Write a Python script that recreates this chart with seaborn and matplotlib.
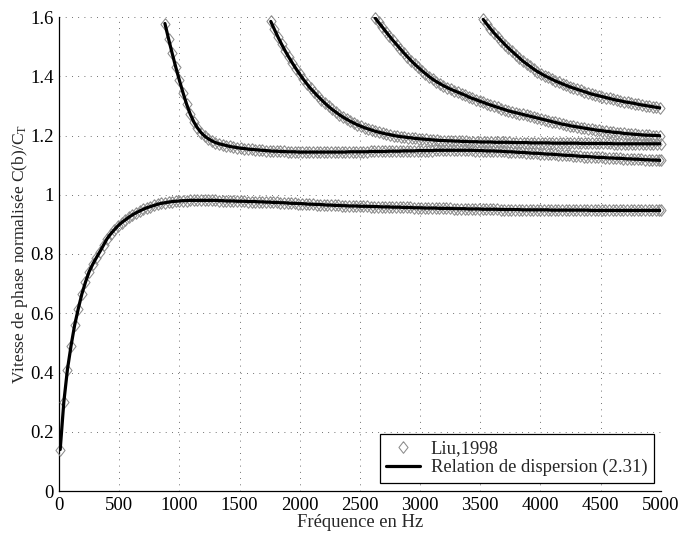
import numpy as np
import pandas as pd
import matplotlib
matplotlib.use("Agg")
import matplotlib.pyplot as plt
import seaborn as sns
from matplotlib.ticker import MultipleLocator, FuncFormatter

# ---------------- data (~30 Hz sampling) ----------------
f_mode0 = np.append(np.arange(10, 5000, 30), 5000)
v_mode0 = [0.140, 0.300, 0.410, 0.490, 0.560, 0.615, 0.665, 0.705, 0.740, 0.765,
           0.787, 0.808, 0.830, 0.852, 0.868, 0.882, 0.895, 0.906, 0.915, 0.924,
           0.932, 0.939, 0.945, 0.951, 0.956, 0.960, 0.964, 0.968, 0.971, 0.973,
           0.975, 0.977, 0.978, 0.979, 0.980, 0.980,
           0.981, 0.981, 0.981, 0.981, 0.981, 0.981, 0.981, 0.981,
           0.980, 0.980, 0.979, 0.979, 0.979, 0.978, 0.978, 0.978, 0.977, 0.977,
           0.977, 0.976, 0.976, 0.975, 0.975, 0.974, 0.974, 0.973, 0.973, 0.972,
           0.971, 0.971, 0.970, 0.970, 0.969, 0.968, 0.968, 0.967, 0.967, 0.966,
           0.965, 0.965, 0.964, 0.964, 0.963, 0.963, 0.962, 0.962, 0.962, 0.961,
           0.961, 0.961, 0.960, 0.960, 0.960, 0.959,
           0.959, 0.959, 0.958, 0.958, 0.958, 0.957,
           0.957, 0.957, 0.956, 0.956, 0.956, 0.955,
           0.955, 0.955, 0.955, 0.954, 0.954, 0.954,
           0.954, 0.953, 0.953, 0.953, 0.953, 0.952,
           0.952, 0.952, 0.952, 0.951, 0.951, 0.951,
           0.951, 0.951, 0.950, 0.950, 0.950, 0.950,
           0.950, 0.950, 0.949, 0.949, 0.949, 0.949,
           0.949, 0.949, 0.949, 0.949, 0.948, 0.948,
           0.948, 0.948, 0.948, 0.948, 0.948, 0.948,
           0.948, 0.948, 0.948, 0.947, 0.947, 0.947,
           0.947, 0.947, 0.947, 0.947, 0.947, 0.947,
           0.947, 0.947, 0.947, 0.947, 0.947, 0.947,
           0.947, 0.947, 0.947, 0.947, 0.947,
           0.947]

f_mode1 = np.append(np.arange(880, 5000, 30), 5000)
v_mode1 = [1.578, 1.527, 1.478, 1.431, 1.387, 1.345, 1.306, 1.273, 1.246, 1.226,
           1.210, 1.198, 1.189, 1.182, 1.176, 1.172, 1.169, 1.166, 1.163, 1.161,
           1.159, 1.157, 1.156, 1.154, 1.153, 1.152, 1.151, 1.150, 1.149, 1.148,
           1.147, 1.147, 1.146, 1.146, 1.145, 1.145, 1.145, 1.144,
           1.144, 1.144, 1.144, 1.144, 1.144, 1.144, 1.144, 1.144, 1.144, 1.144,
           1.144, 1.144, 1.144,
           1.145, 1.145, 1.145, 1.145, 1.145, 1.145, 1.146, 1.146, 1.146, 1.146,
           1.146, 1.147, 1.147, 1.147, 1.147, 1.148, 1.148, 1.148, 1.148, 1.149,
           1.149, 1.149, 1.149, 1.149, 1.150,
           1.150, 1.150, 1.150, 1.150, 1.150, 1.150, 1.150, 1.150, 1.150, 1.150,
           1.149, 1.149, 1.149, 1.148, 1.148, 1.148, 1.147, 1.147, 1.146, 1.145,
           1.145, 1.144, 1.143, 1.143, 1.142, 1.141, 1.140, 1.140, 1.139, 1.138,
           1.137, 1.137, 1.136, 1.135, 1.134, 1.133, 1.133, 1.132, 1.131, 1.130,
           1.129, 1.129, 1.128, 1.127, 1.126, 1.126, 1.125, 1.124, 1.124, 1.123,
           1.123, 1.122, 1.121, 1.121, 1.120, 1.120, 1.119, 1.118, 1.118, 1.117,
           1.117, 1.116,
           1.116]

f_mode2 = np.append(np.arange(1760, 5000, 30), 5000)
v_mode2 = [1.585, 1.558, 1.532, 1.508, 1.485, 1.464, 1.444, 1.425, 1.407, 1.390,
           1.374, 1.359, 1.346, 1.333, 1.321, 1.309, 1.298, 1.288, 1.279, 1.270,
           1.262, 1.255, 1.248, 1.242, 1.236, 1.231, 1.226, 1.222, 1.218, 1.214,
           1.211, 1.208, 1.205, 1.203, 1.200, 1.198, 1.196, 1.195, 1.193, 1.192,
           1.190, 1.189, 1.188, 1.187, 1.186, 1.185, 1.184, 1.183, 1.183, 1.182,
           1.182, 1.181, 1.181, 1.180, 1.180, 1.179, 1.179, 1.179, 1.178, 1.178,
           1.178, 1.178, 1.177, 1.177, 1.177, 1.177, 1.177, 1.176, 1.176, 1.176,
           1.176, 1.176, 1.175, 1.175, 1.175, 1.175, 1.175, 1.175, 1.174, 1.174,
           1.174, 1.174, 1.174, 1.174, 1.174, 1.174, 1.173, 1.173, 1.173, 1.173,
           1.173, 1.173, 1.173, 1.173, 1.173,
           1.172, 1.172, 1.172, 1.172, 1.172, 1.172, 1.172, 1.172, 1.172, 1.172,
           1.172, 1.172, 1.172,
           1.172]

f_mode3 = np.arange(2625, 5000, 30)
v_mode3 = [1.598, 1.582, 1.567, 1.551, 1.536, 1.521, 1.507, 1.493, 1.479, 1.466,
           1.453, 1.441, 1.430, 1.419, 1.409, 1.399, 1.390, 1.382, 1.375, 1.368,
           1.362, 1.356, 1.351, 1.346, 1.341, 1.336, 1.330, 1.325, 1.321, 1.316,
           1.312, 1.307, 1.303, 1.299, 1.295, 1.291, 1.287, 1.283, 1.280, 1.277,
           1.274, 1.271, 1.268, 1.265, 1.262, 1.259, 1.256, 1.253, 1.250, 1.247,
           1.244, 1.241, 1.238, 1.236, 1.233, 1.231, 1.229, 1.227, 1.225, 1.223,
           1.221, 1.219, 1.217, 1.216, 1.214, 1.213, 1.211, 1.210, 1.209, 1.207,
           1.206, 1.205, 1.204, 1.203, 1.202, 1.201, 1.201, 1.200, 1.200, 1.199]

f_mode4 = np.arange(3525, 5000, 30)
v_mode4 = [1.592, 1.576, 1.561, 1.546, 1.533, 1.520, 1.507, 1.495, 1.484, 1.473,
           1.462, 1.451, 1.442, 1.433, 1.424, 1.416, 1.409, 1.402, 1.396, 1.390,
           1.384, 1.379, 1.374, 1.369, 1.364, 1.360, 1.356, 1.352, 1.348, 1.344,
           1.340, 1.337, 1.334, 1.331, 1.328, 1.325, 1.322, 1.319, 1.317, 1.314,
           1.312, 1.310, 1.308, 1.305, 1.303, 1.301, 1.299, 1.297, 1.295, 1.293]

modes = [(f_mode0, v_mode0), (f_mode1, v_mode1), (f_mode2, v_mode2),
         (f_mode3, v_mode3), (f_mode4, v_mode4)]

x_ticks = list(range(0, 5001, 500))
y_ticks = [0, 0.2, 0.4, 0.6, 0.8, 1.0, 1.2, 1.4, 1.6]
label_liu = "Liu,1998"
label_rel = "Relation de dispersion (2.31)"
xlabel = "Fréquence en Hz"
ylabel = "Vitesse de phase normalisée C(b)/C$_{\\mathrm{T}}$"

# ---------------- style ----------------
sns.set_style("white")
plt.rcParams["font.family"] = ["Liberation Serif", "DejaVu Serif"]
plt.rcParams["mathtext.fontset"] = "custom"
plt.rcParams["mathtext.rm"] = "Liberation Serif"
plt.rcParams["mathtext.it"] = "Liberation Serif:italic"

fig = plt.figure(figsize=(6.8, 5.33), dpi=100)
ax = fig.add_axes([59 / 680, 42 / 533, 601.7 / 680, 474 / 533])

diamond = [(0, 1), (0.78, 0), (0, -1), (-0.78, 0), (0, 1)]

for i, (f, v) in enumerate(modes):
    assert len(f) == len(v), (i, len(f), len(v))
    df = pd.DataFrame({"f": f, "v": v})
    sns.lineplot(data=df, x="f", y="v", ax=ax, sort=False, estimator=None,
                 linestyle="none", marker=diamond, markersize=8.4,
                 markerfacecolor="none", markeredgecolor="0.55",
                 markeredgewidth=0.75, color="0.55", clip_on=False, zorder=3,
                 label=label_liu if i == 0 else None)
for i, (f, v) in enumerate(modes):
    df = pd.DataFrame({"f": f, "v": v})
    sns.lineplot(data=df, x="f", y="v", ax=ax, sort=False, estimator=None,
                 color="black", linewidth=2.3, zorder=4,
                 label=label_rel if i == 0 else None)

ax.set_xlim(0, 5000)
ax.set_ylim(0, 1.6)
ax.set_xticks(x_ticks)
ax.set_yticks(y_ticks)
ax.yaxis.set_major_formatter(FuncFormatter(lambda y, p: f"{y:g}"))
ax.xaxis.set_minor_locator(MultipleLocator(50))
ax.yaxis.set_minor_locator(MultipleLocator(0.02))
ax.tick_params(which="major", direction="in", length=4, width=0.8,
               labelsize=13.5, colors="black", pad=4)
ax.tick_params(which="minor", direction="in", length=2, width=0.5)
ax.tick_params(top=False, right=False)

for s in ["top", "right"]:
    ax.spines[s].set_visible(False)
for s in ["left", "bottom"]:
    ax.spines[s].set_color("black")
    ax.spines[s].set_linewidth(0.9)

ax.grid(True, which="major", linestyle=(0, (1, 6.5)), color="0.25", linewidth=0.6)
ax.set_axisbelow(True)

ax.set_xlabel(xlabel, fontsize=13.4, labelpad=0)
ax.set_ylabel(ylabel, fontsize=12.6, labelpad=0)

handles, labels = ax.get_legend_handles_labels()
leg = ax.legend(handles, labels, loc="lower right",
                bbox_to_anchor=(654 / 680, 50 / 533), bbox_transform=fig.transFigure,
                borderaxespad=0, fancybox=False, frameon=True, fontsize=13.4,
                handlelength=1.8, handletextpad=0.6, labelspacing=0.1,
                borderpad=0.35)
leg.get_frame().set_edgecolor("black")
leg.get_frame().set_linewidth(0.9)
leg.get_frame().set_alpha(1)

fig.savefig("out.png", dpi=100)
